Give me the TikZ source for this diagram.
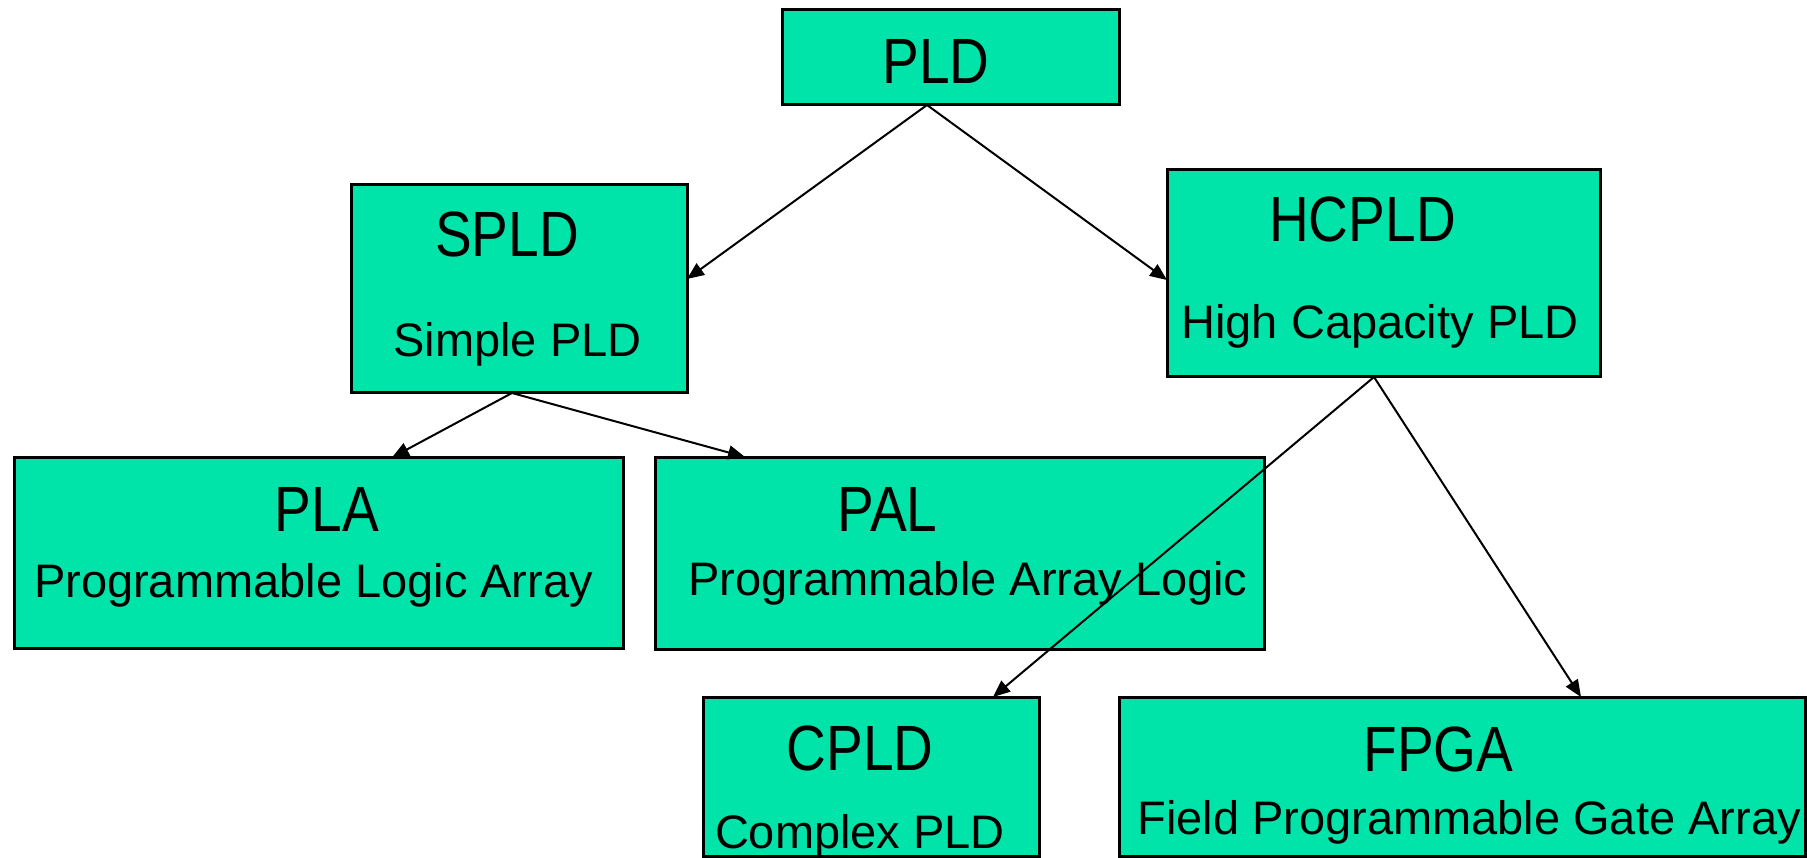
\documentclass[tikz,border=0pt]{standalone}
\usepackage{fontspec}
\setmainfont{Liberation Sans}
\newfontfamily\ttlfont[FakeStretch=0.86]{Liberation Sans}
\usetikzlibrary{arrows.meta}
\definecolor{boxgreen}{RGB}{0,228,170}
\tikzset{
  box/.style={draw=black, line width=3pt, fill=boxgreen, inner sep=0pt, outer sep=0pt},
  ttl/.style={font=\ttlfont\fontsize{64}{70}\selectfont, inner sep=0pt, anchor=base},
  sub/.style={font=\fontsize{47}{52}\selectfont, inner sep=0pt, anchor=base},
  link/.style={line width=2pt, -{Triangle[length=17pt,width=14pt]}}
}
\begin{document}
\begin{tikzpicture}[x=1pt,y=-1pt]
\useasboundingbox (0,0) rectangle (1807,858);

% boxes
\node[box, minimum width=337pt, minimum height=95pt]  (pld)   at (950.5,57.5) {};
\node[box, minimum width=336pt, minimum height=208pt] (spld)  at (519,289) {};
\node[box, minimum width=433pt, minimum height=207pt] (hcpld) at (1383.5,273.5) {};
\node[box, minimum width=609pt, minimum height=191pt] (pla)   at (318.5,553) {};
\node[box, minimum width=609pt, minimum height=192pt] (pal)   at (959.5,553) {};
\node[box, minimum width=336pt, minimum height=159pt] (cpld)  at (871,776.5) {};
\node[box, minimum width=686pt, minimum height=159pt] (fpga)  at (1462,776.5) {};

% labels
\node[ttl] (pldT)   at (936,84)    {PLD};
\node[ttl] (spldT)  at (507,257)   {SPLD};
\node[sub] (spldS)  at (517.5,357) {Simple PLD};
\node[ttl] (hcpldT) at (1362.5,242) {HCPLD};
\node[sub] (hcpldS) at (1380,339)  {High Capacity PLD};
\node[ttl] (plaT)   at (327,531)   {PLA};
\node[sub] (plaS)   at (313.5,597) {Programmable Logic Array};
\node[ttl] (palT)   at (887.5,531) {PAL};
\node[sub] (palS)   at (968,595)   {Programmable Array Logic};
\node[ttl] (cpldT)  at (860,770)   {CPLD};
\node[sub] (cpldS)  at (860,848)   {Complex PLD};
\node[ttl] (fpgaT)  at (1438.5,771) {FPGA};
\node[sub] (fpgaS)  at (1469,834)  {Field Programmable Gate Array};

% connectors
\draw[link] ([xshift=-23.5pt]pld.south) -- ([yshift=10pt]spld.east);
\draw[link] ([xshift=-23.5pt]pld.south) -- ([yshift=-6.5pt]hcpld.west);
\draw[link] ([xshift=-7pt]spld.south) -- ([xshift=73.5pt]pla.north);
\draw[link] ([xshift=-7pt]spld.south) -- ([xshift=-214.5pt]pal.north);
\draw[link] ([xshift=-9.5pt]hcpld.south) -- ([xshift=122pt]cpld.north);
\draw[link] ([xshift=-9.5pt]hcpld.south) -- ([xshift=119pt]fpga.north);
\end{tikzpicture}
\end{document}
